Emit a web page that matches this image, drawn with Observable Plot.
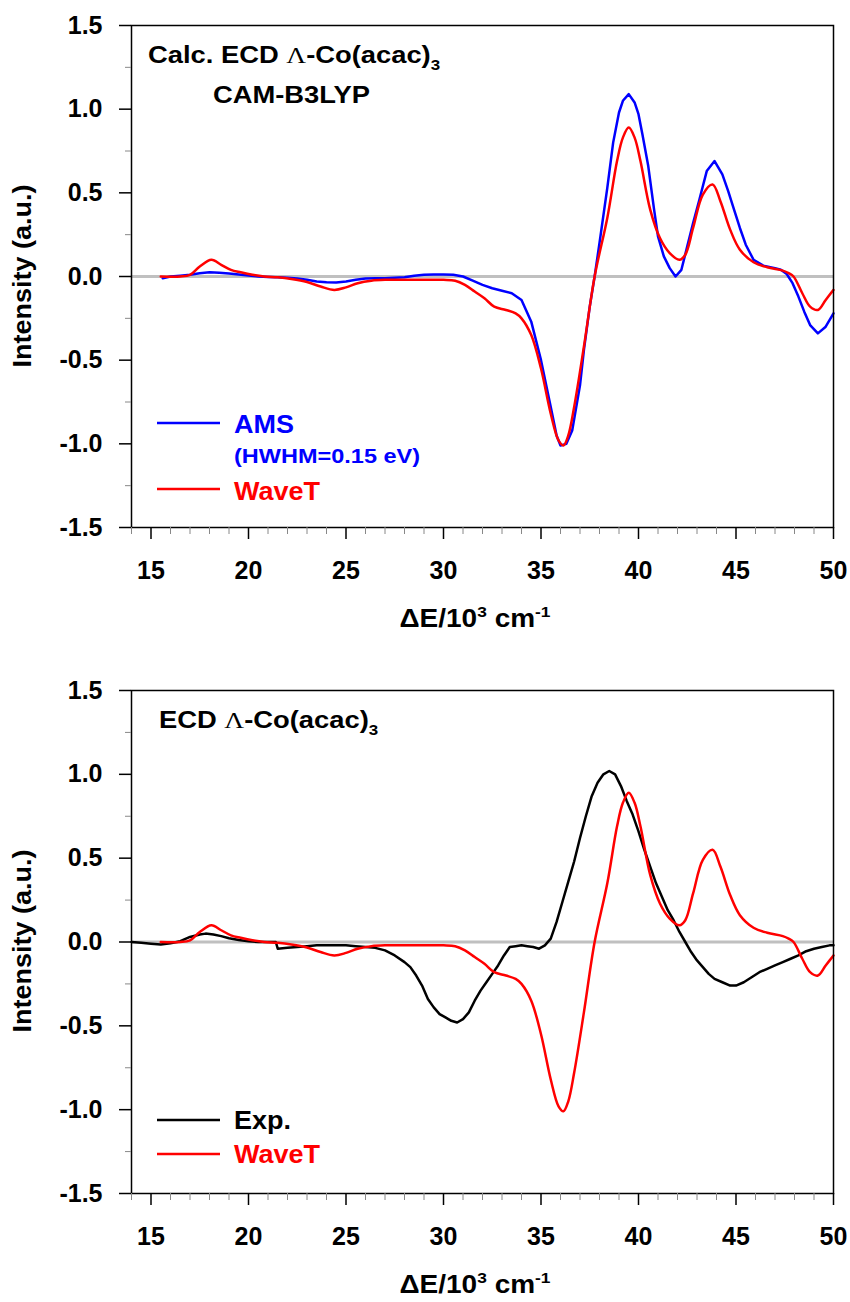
<!DOCTYPE html>
<html><head><meta charset="utf-8">
<script src="https://cdn.jsdelivr.net/npm/d3@7"></script>
<script src="https://cdn.jsdelivr.net/npm/@observablehq/plot@0.6"></script>
<style>body{margin:0;background:#fff} svg{display:block}</style>
</head><body><div id="panelTop"></div><div id="panelBottom"></div>
<script>
// ---- Data (ΔE in 10^3 cm^-1, intensity a.u.) ----
const amsX = [15.6,16.0,16.5,17.0,17.5,18.0,18.5,19.0,19.5,20.0,20.5,21.0,21.5,22.0,22.5,23.0,23.5,24.0,24.5,25.0,25.5,26.0,26.5,27.0,27.5,28.0,28.5,29.0,29.5,30.0,30.5,31.0,31.5,32.0,32.5,33.0,33.5,34.0,34.5,35.0,35.5,35.8,36.0,36.3,36.6,37.0,37.2,37.5,37.75,38.0,38.4,38.7,39.0,39.2,39.5,39.8,40.0,40.2,40.5,40.8,41.0,41.3,41.6,41.9,42.2,42.5,42.8,43.1,43.5,43.9,44.3,44.6,44.9,45.2,45.5,45.9,46.4,47.0,47.3,47.6,47.9,48.2,48.5,48.8,49.2,49.6,50.0];
const amsY = [-0.01,0.0,0.005,0.01,0.02,0.025,0.022,0.018,0.012,0.006,0.0,-0.003,-0.005,-0.008,-0.012,-0.02,-0.03,-0.035,-0.036,-0.03,-0.02,-0.012,-0.01,-0.01,-0.008,-0.005,0.005,0.01,0.012,0.012,0.01,0.0,-0.025,-0.05,-0.07,-0.085,-0.10,-0.14,-0.27,-0.50,-0.78,-0.95,-1.01,-1.0,-0.92,-0.65,-0.44,-0.18,0.0,0.2,0.53,0.80,0.98,1.05,1.09,1.04,0.97,0.85,0.66,0.40,0.24,0.12,0.05,0.0,0.04,0.18,0.32,0.45,0.63,0.69,0.61,0.51,0.40,0.29,0.19,0.10,0.065,0.05,0.04,0.015,-0.04,-0.12,-0.21,-0.29,-0.34,-0.30,-0.22];

const wavetX = [15.5,16.5,17.0,17.5,18.1,18.6,19.1,19.6,20.2,20.8,21.5,22.2,23.0,23.7,24.4,25.0,25.6,26.3,27.0,28.0,29.0,30.0,30.6,31.1,31.6,32.1,32.6,33.2,33.7,34.0,34.5,35.0,35.5,35.9,36.15,36.4,36.7,37.2,37.75,38.4,38.9,39.2,39.5,39.8,40.1,40.6,41.1,41.6,42.1,42.4,42.8,43.3,43.8,44.2,44.7,45.2,45.9,46.6,47.4,47.7,47.95,48.4,48.8,49.2,49.6,50.0];
const wavetY = [0.0,0.0,0.01,0.06,0.10,0.07,0.04,0.025,0.01,0.0,-0.005,-0.015,-0.033,-0.06,-0.08,-0.065,-0.04,-0.025,-0.02,-0.02,-0.02,-0.02,-0.025,-0.05,-0.09,-0.13,-0.18,-0.20,-0.22,-0.25,-0.35,-0.55,-0.82,-0.98,-1.01,-0.95,-0.78,-0.42,0.0,0.35,0.69,0.83,0.89,0.83,0.69,0.40,0.23,0.14,0.10,0.13,0.29,0.49,0.55,0.45,0.28,0.16,0.085,0.055,0.035,0.02,0.0,-0.10,-0.18,-0.20,-0.14,-0.08];

const expX = [14.0,14.5,15.0,15.5,16.0,16.5,17.0,17.5,17.8,18.2,18.6,19.0,19.5,20.0,20.5,21.0,21.4,21.5,22.0,22.5,23.0,23.5,24.0,24.5,25.0,25.5,26.0,26.5,27.0,27.5,28.0,28.3,28.6,28.9,29.2,29.5,29.8,30.1,30.4,30.7,31.0,31.3,31.6,31.9,32.2,32.5,32.8,33.1,33.4,33.7,34.0,34.3,34.6,34.9,35.2,35.5,35.8,36.1,36.4,36.7,37.0,37.3,37.6,37.9,38.2,38.5,38.8,39.1,39.4,39.7,40.0,40.3,40.6,40.9,41.2,41.5,41.8,42.1,42.4,42.7,43.0,43.3,43.6,43.9,44.3,44.7,45.0,45.4,45.8,46.2,46.6,47.0,47.4,47.8,48.2,48.6,49.0,49.4,49.8,50.0];
const expY = [0.0,-0.005,-0.01,-0.015,-0.008,0.005,0.03,0.045,0.05,0.045,0.035,0.022,0.012,0.005,0.0,0.0,0.0,-0.04,-0.035,-0.03,-0.025,-0.02,-0.02,-0.02,-0.02,-0.025,-0.03,-0.035,-0.05,-0.08,-0.12,-0.15,-0.20,-0.26,-0.34,-0.39,-0.43,-0.45,-0.47,-0.48,-0.46,-0.42,-0.35,-0.29,-0.24,-0.19,-0.14,-0.08,-0.03,-0.025,-0.02,-0.025,-0.03,-0.04,-0.02,0.02,0.12,0.24,0.36,0.48,0.62,0.75,0.87,0.95,1.0,1.02,1.0,0.93,0.84,0.76,0.66,0.55,0.45,0.35,0.27,0.19,0.13,0.06,0.0,-0.06,-0.11,-0.15,-0.19,-0.22,-0.24,-0.26,-0.26,-0.24,-0.21,-0.18,-0.16,-0.14,-0.12,-0.10,-0.08,-0.055,-0.04,-0.03,-0.02,-0.02];

const xMajor = [15,20,25,30,35,40,45,50];
const xMinor = [14,16,17,18,19,21,22,23,24,26,27,28,29,31,32,33,34,36,37,38,39,41,42,43,44,46,47,48,49];
const yMajor = [-1.5,-1.0,-0.5,0,0.5,1.0,1.5];
const yMinor = [-1.25,-0.75,-0.25,0.25,0.75,1.25];

const toRows = (xs, ys) => xs.map((x, i) => ({x, y: ys[i]}));
const ams = toRows(amsX, amsY), wavet = toRows(wavetX, wavetY), expData = toRows(expX, expY);

const FONT = "'Liberation Sans', Arial, sans-serif";

function panel(height, marginTop, marginBottom, lines) {
  return Plot.plot({
    width: 850, height, marginLeft: 131, marginRight: 17, marginTop, marginBottom,
    x: {domain: [14, 50]}, y: {domain: [-1.5, 1.5]},
    style: {fontFamily: FONT, fontSize: "25px", fontWeight: "bold", color: "#000", background: "#fff", overflow: "visible"},
    marks: [
      Plot.ruleY([0], {stroke: "#c0c0c0", strokeWidth: 3}),
      ...lines,
      Plot.frame({stroke: "#000", strokeWidth: 1.5}),
      Plot.axisX(xMinor, {tickSize: 7, tickFormat: () => "", stroke: "#888", label: null}),
      Plot.axisX(xMajor, {tickSize: 12, tickPadding: 22, strokeWidth: 1.5, tickFormat: d => String(d), label: null}),
      Plot.axisY(yMinor, {tickSize: 6, tickFormat: () => "", stroke: "#888", label: null}),
      Plot.axisY(yMajor, {tickSize: 12, tickPadding: 17, strokeWidth: 1.5, tickFormat: d => d.toFixed(1), label: null})
    ]
  });
}

function addText(svg, x, y, parts, size, color, anchor, sx) {
  const g = d3.select(svg).append("g").attr("transform", `translate(${x},${y}) scale(${sx || 1},1)`);
  const t = g.append("text")
    .attr("x", 0).attr("y", 0).attr("font-family", FONT).attr("font-weight", "bold")
    .attr("font-size", size).attr("fill", color || "#000").attr("text-anchor", anchor || "start");
  let shift = 0;
  for (const p of parts) {
    const s = t.append("tspan").text(p.t);
    let target = 0;
    if (p.sub) target = size * 0.3;
    if (p.sup) target = -size * 0.4;
    if (target !== shift) { s.attr("dy", target - shift); shift = target; }
    if (p.sub || p.sup) s.attr("font-size", size * 0.62);
    if (p.serif) s.attr("font-family", "'Liberation Serif', 'Times New Roman', serif").attr("font-weight", "normal");
  }
  return t;
}
function addLegendLine(svg, x1, x2, y, color) {
  d3.select(svg).append("line").attr("x1", x1).attr("x2", x2).attr("y1", y).attr("y2", y)
    .attr("stroke", color).attr("stroke-width", 2.5);
}
function decorate(svg, yCenter, titleY) {
  d3.select(svg).append("text")
    .attr("transform", `translate(31,${yCenter}) rotate(-90) scale(1.08,1)`)
    .attr("text-anchor", "middle").attr("font-family", FONT).attr("font-weight", "bold")
    .attr("font-size", 25).attr("fill", "#000").text("Intensity (a.u.)");
  addText(svg, 475, titleY, [{t: "ΔE/10"}, {t: "3", sup: true}, {t: " cm"}, {t: "-1", sup: true}], 25, "#000", "middle", 1.12);
}

// ---- Top panel ----
const svgTop = panel(650, 25, 123, [
  Plot.line(ams, {x: "x", y: "y", stroke: "#0000ff", strokeWidth: 2.5}),
  Plot.line(wavet, {x: "x", y: "y", stroke: "#ff0000", strokeWidth: 2.5, curve: "catmull-rom"})
]);
decorate(svgTop, 276, 627);
addText(svgTop, 148, 63, [{t: "Calc. ECD "}, {t: "Λ", serif: true}, {t: "-Co(acac)"}, {t: "3", sub: true}], 24, "#000", "start", 1.14);
addText(svgTop, 213, 103, [{t: "CAM-B3LYP"}], 24, "#000", "start", 1.14);
addLegendLine(svgTop, 157, 220, 423, "#0000ff");
addText(svgTop, 234, 433, [{t: "AMS"}], 25, "#0000ff", "start", 1.08);
addText(svgTop, 234, 463, [{t: "(HWHM=0.15 eV)"}], 21, "#0000ff", "start", 1.12);
addLegendLine(svgTop, 157, 220, 489, "#ff0000");
addText(svgTop, 234, 500, [{t: "WaveT"}], 25, "#ff0000", "start", 1.08);
document.getElementById("panelTop").append(svgTop);

// ---- Bottom panel ----
const svgBot = panel(652, 40, 109, [
  Plot.line(expData, {x: "x", y: "y", stroke: "#000", strokeWidth: 2.5}),
  Plot.line(wavet, {x: "x", y: "y", stroke: "#ff0000", strokeWidth: 2.5, curve: "catmull-rom"})
]);
decorate(svgBot, 291, 643);
addText(svgBot, 159, 78, [{t: "ECD "}, {t: "Λ", serif: true}, {t: "-Co(acac)"}, {t: "3", sub: true}], 24, "#000", "start", 1.14);
addLegendLine(svgBot, 157, 220, 470, "#000");
addText(svgBot, 234, 479, [{t: "Exp."}], 25, "#000", "start", 1.08);
addLegendLine(svgBot, 157, 220, 504, "#ff0000");
addText(svgBot, 234, 513, [{t: "WaveT"}], 25, "#ff0000", "start", 1.08);
document.getElementById("panelBottom").append(svgBot);
</script>
</body></html>
